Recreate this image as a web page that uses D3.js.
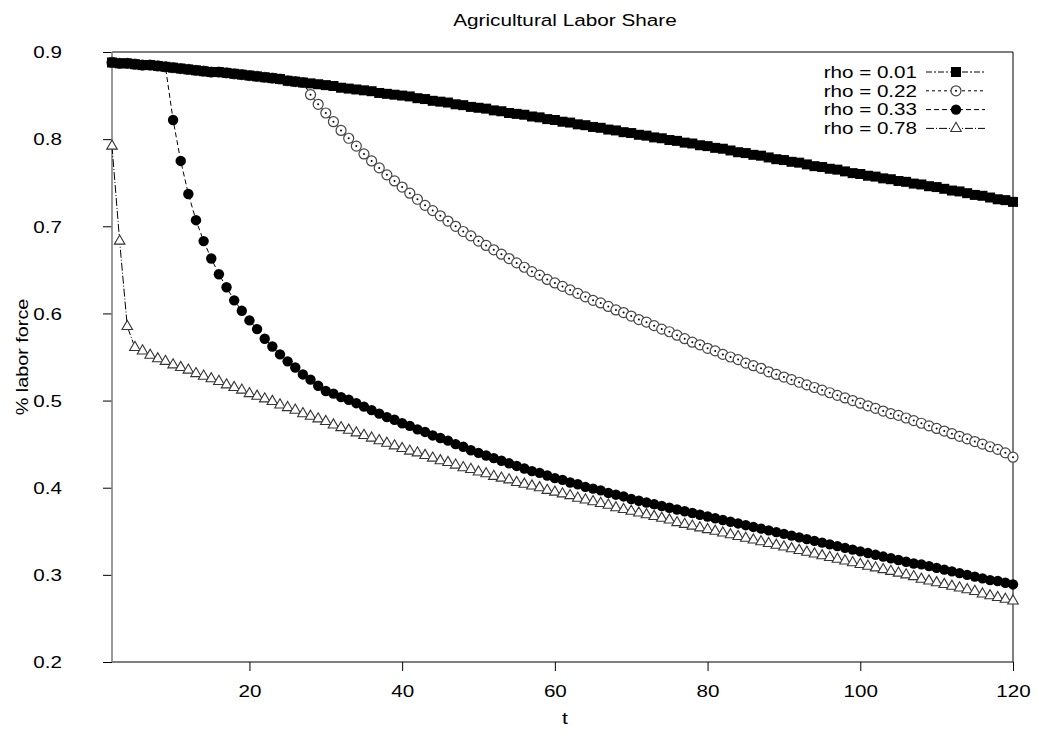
<!DOCTYPE html>
<html><head><meta charset="utf-8">
<script src="https://cdn.jsdelivr.net/npm/d3@7"></script>
<style>
body{margin:0;background:#fff}
svg{display:block}
text{font-family:"Liberation Sans",Arial,Helvetica,sans-serif;fill:#000}
</style>
</head><body>
<svg id="c" width="1039" height="736"></svg>
<script>
// ---------------- data ----------------
const tValues = [2,3,4,5,6,7,8,9,10,11,12,13,14,15,16,17,18,19,20,21,22,23,24,25,26,27,28,29,30,
31,32,33,34,35,36,37,38,39,40,41,42,43,44,45,46,47,48,49,50,51,52,53,54,55,56,57,58,59,60,
61,62,63,64,65,66,67,68,69,70,71,72,73,74,75,76,77,78,79,80,81,82,83,84,85,86,87,88,89,90,
91,92,93,94,95,96,97,98,99,100,101,102,103,104,105,106,107,108,109,110,111,112,113,114,115,116,117,118,119,120];

const rho001 = [.888,.887,.887,.886,.885,.885,.884,.883,.882,
.881,.880,.879,.878,.877,.877,.876,.875,.874,.873,
.872,.871,.870,.869,.867,.866,.865,.864,.863,.862,
.861,.859,.858,.857,.856,.855,.853,.852,.851,.850,
.849,.847,.846,.844,.843,.842,.840,.839,.837,.836,
.835,.833,.832,.830,.829,.828,.826,.825,.823,.822,
.820,.819,.817,.816,.814,.813,.811,.810,.808,.807,
.805,.804,.802,.801,.799,.798,.796,.795,.793,.792,
.790,.789,.787,.785,.784,.782,.781,.779,.777,.776,
.774,.773,.771,.769,.768,.766,.765,.763,.761,.760,
.758,.757,.755,.754,.752,.751,.749,.748,.746,.745,
.743,.741,.740,.738,.736,.735,.733,.731,.730,.728];

const rho022 = [.888,.887,.887,.886,.885,.885,.884,.883,.882,
.881,.880,.879,.878,.877,.877,.876,.875,.874,.873,
.872,.871,.870,.869,.867,.866,.865,.851,.840,.830,
.820,.810,.801,.792,.783,.775,.767,.759,.752,.745,
.738,.731,.724,.718,.712,.706,.700,.694,.689,.683,
.678,.673,.668,.663,.658,.653,.648,.644,.639,.635,
.631,.627,.623,.619,.615,.612,.608,.604,.601,.597,
.593,.590,.586,.582,.579,.575,.571,.567,.564,.560,
.557,.553,.550,.547,.543,.540,.537,.533,.530,.527,
.524,.521,.518,.515,.512,.509,.506,.503,.500,.497,
.494,.491,.488,.485,.483,.480,.477,.474,.471,.468,
.465,.462,.459,.456,.453,.450,.447,.444,.440,.435];

const rho033 = [.888,.887,.887,.886,.885,.885,.884,.883,.822,
.775,.737,.707,.683,.663,.645,.630,.615,.603,.592,
.582,.571,.562,.553,.545,.538,.530,.524,.517,.511,
.508,.504,.501,.497,.493,.489,.485,.481,.478,.474,
.471,.467,.464,.460,.457,.454,.450,.447,.443,.440,
.437,.434,.431,.428,.425,.422,.419,.417,.414,.411,
.409,.406,.404,.401,.399,.397,.394,.392,.390,.387,
.385,.383,.381,.379,.377,.375,.373,.371,.369,.367,
.365,.363,.361,.359,.357,.355,.353,.351,.349,.347,
.345,.343,.341,.339,.337,.335,.333,.331,.329,.327,
.325,.323,.321,.319,.317,.315,.313,.312,.310,.308,
.306,.304,.302,.300,.298,.296,.294,.293,.291,.289];

const rho078 = [.792,.683,.585,.561,.557,.552,.548,.545,.541,
.538,.535,.531,.528,.525,.522,.518,.515,.512,.508,
.505,.502,.499,.495,.492,.489,.485,.482,.479,.476,
.472,.469,.466,.463,.460,.457,.454,.451,.448,.445,
.442,.440,.437,.434,.431,.429,.426,.423,.421,.418,
.416,.413,.411,.409,.406,.404,.402,.400,.397,.395,
.393,.391,.388,.386,.384,.382,.380,.377,.375,.373,
.371,.369,.367,.365,.363,.360,.358,.356,.354,.352,
.350,.348,.346,.344,.342,.340,.338,.336,.334,.332,
.330,.328,.326,.324,.322,.320,.318,.316,.314,.312,
.310,.308,.306,.304,.302,.300,.298,.295,.293,.291,
.289,.287,.285,.283,.281,.278,.276,.274,.272,.270];

const seriesLabels = ["rho = 0.01","rho = 0.22","rho = 0.33","rho = 0.78"];
const xTicks = [20,40,60,80,100,120];
const yTicks = [0.2,0.3,0.4,0.5,0.6,0.7,0.8,0.9];
const titleText = "Agricultural Labor Share";
const xLabelText = "t";
const yLabelText = "% labor force";

// ---------------- layout ----------------
const L = 112, R = 1013, T = 52, B = 662;
const FS = 16.5;   // font size
const SX = 1.25;   // horizontal stretch of the lettering
const svg = d3.select("#c");
const x = d3.scaleLinear().domain([2,120]).range([L,R]);
const y = d3.scaleLinear().domain([0.2,0.9]).range([B,T]);

// axes
const gx = svg.append("g").attr("transform",`translate(0,${B})`)
  .call(d3.axisBottom(x).tickValues(xTicks).tickSize(9).tickSizeOuter(0));
gx.select(".domain").remove();
gx.selectAll("line").attr("stroke","#000");
gx.selectAll("text").attr("y",0).attr("dy","0.35em").attr("font-size",FS)
  .attr("transform",`translate(0,29) scale(${SX},1)`);

const gy = svg.append("g").attr("transform",`translate(${L},0)`)
  .call(d3.axisLeft(y).tickValues(yTicks).tickFormat(d3.format(".1f")).tickSize(9).tickSizeOuter(0));
gy.select(".domain").remove();
gy.selectAll("line").attr("stroke","#000");
gy.selectAll("text").attr("x",0).attr("dy","0.35em").attr("font-size",FS)
  .attr("transform",`translate(-50,0) scale(${SX},1)`);

// frame
svg.append("line").attr("x1",L).attr("x2",R).attr("y1",T).attr("y2",T).attr("stroke","#000");
svg.append("line").attr("x1",R).attr("x2",R).attr("y1",T).attr("y2",B).attr("stroke","#000");
svg.append("line").attr("x1",L).attr("x2",R).attr("y1",B).attr("y2",B).attr("stroke","#000");
svg.append("line").attr("x1",L).attr("x2",L).attr("y1",T).attr("y2",B).attr("stroke","#808080").attr("stroke-width",1.6);

// series definitions (drawing order: last one on top)
const series = [
  {label:seriesLabels[3], values:rho078, dash:"8,2,1,2", marker:"tri"},
  {label:seriesLabels[2], values:rho033, dash:"5,3", marker:"dot"},
  {label:seriesLabels[1], values:rho022, dash:"3,3", marker:"ring"},
  {label:seriesLabels[0], values:rho001, dash:"6,2,2,2", marker:"sq"}
];

function drawMarker(g, kind){
  if(kind==="sq"){
    g.append("path").attr("d",d3.symbol(d3.symbolSquare,100)()).attr("fill","#000");
  } else if(kind==="dot"){
    g.append("circle").attr("r",5.2).attr("fill","#000");
  } else if(kind==="ring"){
    g.append("circle").attr("r",5).attr("fill","#fff").attr("stroke","#444").attr("stroke-width",1.2);
    g.append("circle").attr("r",1).attr("fill","#000");
  } else {
    g.append("path").attr("d",d3.symbol(d3.symbolTriangle,48)()).attr("fill","#fff")
      .attr("stroke","#333").attr("stroke-width",1.1);
  }
}

const line = d3.line().x((d,i)=>x(tValues[i])).y(d=>y(d));
series.forEach(s=>{
  const g = svg.append("g");
  g.append("path").attr("d",line(s.values)).attr("fill","none").attr("stroke","#000")
    .attr("stroke-width",1).attr("stroke-dasharray",s.dash);
  s.values.forEach((v,i)=>{
    const m = g.append("g").attr("transform",`translate(${x(tValues[i])},${y(v)})`);
    drawMarker(m, s.marker);
  });
});

// legend
const legendOrder = [3,2,1,0];
legendOrder.forEach((si,row)=>{
  const s = series[si];
  const yy = 72 + row*18.8;
  svg.append("text").attr("text-anchor","end").attr("dy","0.35em").attr("font-size",FS)
    .attr("transform",`translate(917,${yy}) scale(${SX},1)`).text(s.label);
  svg.append("line").attr("x1",926).attr("x2",985).attr("y1",yy).attr("y2",yy)
    .attr("stroke","#000").attr("stroke-dasharray",s.dash);
  const m = svg.append("g").attr("transform",`translate(956,${yy})`);
  drawMarker(m, s.marker);
});

// titles
svg.append("text").attr("text-anchor","middle").attr("dy","0.35em").attr("font-size",17)
  .attr("transform",`translate(565,20) scale(1.22,1)`).text(titleText);
svg.append("text").attr("text-anchor","middle").attr("dy","0.35em").attr("font-size",17)
  .attr("transform",`translate(565,718) scale(${SX},1)`).text(xLabelText);
svg.append("text").attr("text-anchor","middle").attr("dy","0.35em").attr("font-size",FS)
  .attr("transform",`translate(22,357) rotate(-90) scale(1.2,1)`).text(yLabelText);
</script>
</body></html>
